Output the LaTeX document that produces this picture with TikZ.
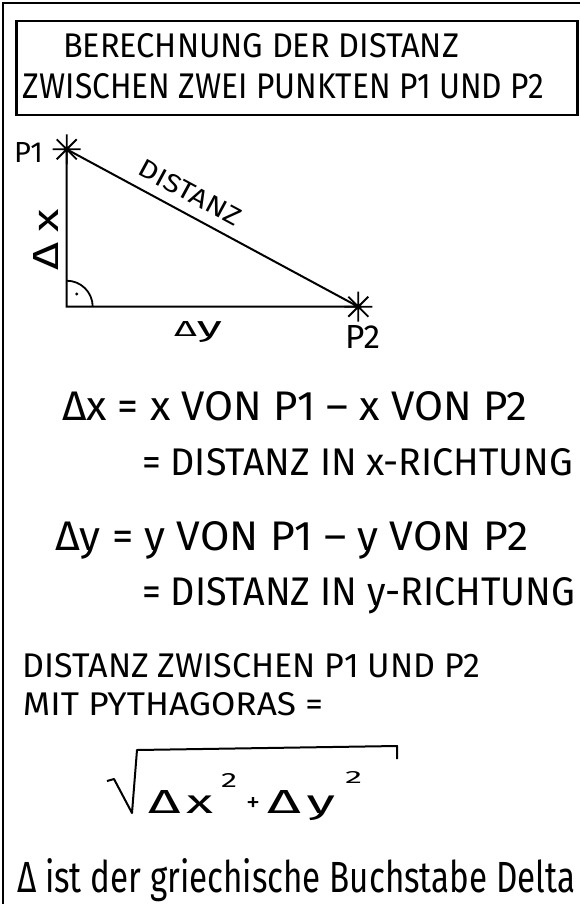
\documentclass[tikz,border=0pt]{standalone}
\usepackage{fontspec}
\setmainfont{Fira Sans}
\usepackage{graphicx}
\newcommand{\fitbox}[3]{\resizebox{#1pt}{#2pt}{#3}}
\begin{document}
\begin{tikzpicture}[x=1pt,y=-1pt,
  txt/.style={inner sep=0pt,outer sep=0pt,anchor=base west},
  ln/.style={line width=2pt},
  starmark/.pic={\draw[line width=1.8pt] (-14,0)--(14,0) (0,-15)--(0,15) (-10,-10)--(10,10) (-10,10)--(10,-10);}]
\useasboundingbox (0,0) rectangle (580,904);
% outer frame
\draw[line width=1.5pt] (3,904) -- (3,3) -- (580,3);
% title box
\node[draw, line width=2.5pt, minimum width=561pt, minimum height=94pt, inner sep=0pt, anchor=north west] (title) at (15,20) {};
\node[txt] (t1) at (63,58) {\fitbox{396}{24}{BERECHNUNG DER DISTANZ}};
\node[txt] (t2) at (23,99) {\fitbox{521}{25}{ZWISCHEN ZWEI PUNKTEN P1 UND P2}};
% triangle
\coordinate (A) at (66.7,149.3);
\coordinate (C) at (66.7,306.7);
\coordinate (B) at (358.3,306.7);
\draw[ln] (A) -- (C) -- (B) -- (A);
\pic at (A) {starmark};
\pic at (B) {starmark};
\draw[line width=1.8pt] (92.7,306.7) arc[start angle=0, end angle=-90, radius=26];
\fill (76.7,294) circle[radius=1.6];
\node[txt] (p1lab) at (14,163) {\fitbox{29}{20}{P1}};
\node[txt] (p2lab) at (345,348) {\fitbox{35}{23}{P2}};
\node[txt] (dylab) at (174,336) {\fitbox{48}{15}{Δ\scalebox{1.3}{y}}};
\node[rotate=90, inner sep=0pt] (dxlab) at (46,240) {\fitbox{61}{25}{Δ\hspace{0.2em}x}};
\path (A) -- (B) node[pos=0.39, sloped, above=11pt, inner sep=0pt] (dist) {\fitbox{112}{18}{DISTANZ}};
% equations
\node[txt] (e1) at (62,420) {\fitbox{465}{29}{Δx = x VON P1 – x VON P2}};
\node[txt] (e2) at (142,475) {\fitbox{431}{27}{= DISTANZ IN x-RICHTUNG}};
\node[txt] (e3) at (55,550) {\fitbox{473}{29}{Δy = y VON P1 – y VON P2}};
\node[txt] (e4) at (142,605) {\fitbox{433}{28}{= DISTANZ IN y-RICHTUNG}};
\node[txt] (e5) at (23,677) {\fitbox{457}{24}{DISTANZ ZWISCHEN P1 UND P2}};
\node[txt] (e6) at (23,715) {\fitbox{300}{23}{MIT PYTHAGORAS =}};
% square root
\draw[line width=2pt, line join=round] (107,781) -- (114,779) -- (132,813) -- (137,750) -- (397,746) -- (397,759);
\node[txt] (rx) at (148,813) {\fitbox{65}{23}{Δ\hspace{0.1em}x}};
\node[txt] (s1) at (221,787) {\fitbox{16}{14}{2}};
\node[txt] (plus) at (246,811) {\fitbox{14}{14}{+}};
\node[txt] (ry) at (267,813) {\fitbox{68}{23}{Δ\hspace{0.1em}y}};
\node[txt] (s2) at (345,783) {\fitbox{17}{12}{2}};
% footnote
\node[txt] (e7) at (17,892) {\fitbox{558}{34}{Δ ist der griechische Buchstabe Delta}};
\end{tikzpicture}
\end{document}
